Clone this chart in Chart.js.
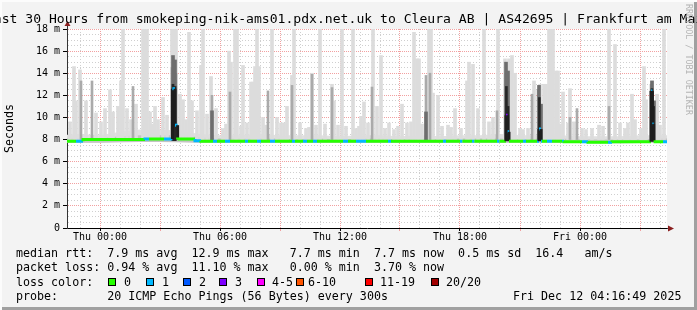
<!DOCTYPE html>
<html>
<head>
<meta charset="utf-8">
<script src="https://cdn.jsdelivr.net/npm/chart.js@4.4.1/dist/chart.umd.min.js"></script>
<style>
    html, body { margin: 0; padding: 0; background: #f3f3f3; }
    #frame {
        position: relative; width: 697px; height: 310px; overflow: hidden;
        background: #f3f3f3; color: #000;
        box-shadow: inset 2px 2px 0 #fcfcfc, inset -3px -3px 0 #a0a0a0;
        font-family: 'DejaVu Sans Mono', monospace;
    }
    #chart { position: absolute; left: 0; top: 0; }
    #title {
        position: absolute; left: 0; top: 10.5px; width: 697px;
        display: flex; justify-content: center;
        white-space: pre; font-size: 13.1px; line-height: 16px;
    }
    #credit {
        position: absolute; left: 684px; top: 4px; writing-mode: vertical-rl;
        font-size: 8.4px; color: #b4b4b4; white-space: pre;
    }
    .line { position: absolute; left: 16px; font-size: 11.66px; line-height: 14.4px; white-space: pre; }
    .txt { position: absolute; font-size: 11.66px; line-height: 14.4px; white-space: pre; }
    .sw { position: absolute; top: 278px; width: 6px; height: 6px; border: 1px solid #000; }
</style>
</head>
<body>
<div id="frame">
    <canvas id="chart" width="697" height="310"></canvas>
    <div id="title">Last 30 Hours from smokeping-nik-ams01.pdx.net.uk to Cleura AB | AS42695 | Frankfurt am Main</div>
    <div id="credit">RRDTOOL / TOBI OETIKER</div>
    <div class="line" style="top:246px">median rtt:  7.9 ms avg  12.9 ms max   7.7 ms min  7.7 ms now  0.5 ms sd  16.4   am/s</div>
    <div class="line" style="top:260.4px">packet loss: 0.94 % avg  11.10 % max   0.00 % min  3.70 % now</div>
    <div class="line" style="top:274.8px">loss color:</div>
    <div class="line" style="top:289.2px">probe:       20 ICMP Echo Pings (56 Bytes) every 300s</div>
    <div class="txt" style="top:289.2px; left:513px">Fri Dec 12 04:16:49 2025</div>
    <div id="losslegend"></div>
</div>
<script>
// hours relative to Thu 00:00, values in ms
const lightHours = [-1.50, -1.30, -1.20, -1.00, -0.70, -0.20, 0.25, 0.50, 0.65, 0.90,
    1.05, 1.15, 1.35, 1.80, 2.15, 2.25, 2.35, 2.50, 2.75, 2.90,
    3.15, 3.35, 3.60, 3.70, 3.80, 4.00, 4.15, 4.45, 4.60, 4.85,
    5.05, 5.15, 5.35, 5.55, 5.80, 6.15, 6.45, 6.55, 6.75, 6.85,
    7.15, 7.35, 7.55, 7.65, 7.75, 7.85, 7.95, 8.15, 8.60, 8.85,
    9.05, 9.35, 9.60, 9.70, 10.00, 10.30, 10.60, 10.80, 11.00, 11.60,
    11.70, 12.10, 12.30, 12.65, 12.80, 13.20, 13.40, 13.65, 13.85, 14.05,
    14.25, 14.45, 14.70, 15.10, 15.35, 15.70, 15.85, 15.95, 16.45, 16.55,
    16.65, 16.90, 17.40, 17.75, 18.05, 18.35, 18.45, 18.65, 18.90, 19.20,
    19.65, 19.90, 20.25, 20.45, 20.60, 20.75, 21.00, 21.15, 21.70, 22.00,
    22.20, 22.30, 22.45, 22.55, 22.65, 22.80, 22.90, 23.15, 23.40, 23.50,
    24.10, 24.60, 24.95, 25.45, 25.75, 26.00, 26.60, 26.75, 27.20, 27.30,
    27.60, 27.85, 28.20,
    0.05, 1.55, 2.62, 4.30, 6.30, 7.05, 8.30, 9.20, 10.45, 11.25,
    11.90, 12.95, 13.05, 14.90, 15.55, 16.10, 17.10, 17.55, 19.45, 21.40,
    23.00, 23.70, 24.30, 25.15, 26.25, 26.40, 27.05, 28.00];
const lightTops = [9.6, 14.6, 11.5, 14.3, 11.5, 10.4, 10.8, 12.5, 10.5, 11.0,
    13.3, 18, 10.8, 11.2, 18, 18, 18, 10.5, 11.0, 9.8,
    11.8, 10.2, 18, 18, 18, 12.1, 11.6, 17.7, 11.5, 10.6,
    14.7, 18, 10.3, 13.7, 10.8, 9.0, 16.0, 15.0, 18, 18,
    14.7, 9.5, 13.2, 13.2, 14.6, 18, 14.6, 10.0, 18, 10.0,
    9.5, 11.0, 13.8, 18, 9.5, 9.0, 14.0, 9.3, 18, 13.0,
    11.5, 18, 9.2, 18, 9.0, 11.4, 9.5, 18, 11.0, 15.6,
    9.0, 9.5, 8.9, 11.2, 9.5, 17.7, 15.3, 15.3, 18, 18,
    12.2, 12.0, 9.3, 10.8, 9.0, 13.3, 15.0, 14.8, 10.8, 18,
    10.0, 18, 15.3, 15.3, 15.6, 14.0, 9.0, 8.9, 13.3, 13.0,
    13.0, 13.0, 18, 18, 18, 14.2, 14.2, 12.3, 9.5, 12.6,
    9.0, 9.0, 9.3, 18, 16.6, 9.5, 12.1, 9.8, 14.6, 11.6,
    13.3, 12.1, 18,
    9.6, 9.8, 9.4, 9.8, 9.4, 9.2, 9.3, 9.5, 9.1, 9.4,
    9.3, 9.2, 10.1, 9.2, 9.6, 9.4, 9.2, 9.1, 9.6, 9.0,
    9.4, 9.6, 8.9, 9.2, 9.0, 9.5, 9.0, 9.3];
const midHours = [-0.95, -0.40, 1.65, 5.60, 6.50, 8.40, 9.60, 10.60, 11.60, 13.60,
    16.30, 16.50, 19.85, 21.60, 23.50, 23.85, 25.45, 3.60, 3.80, 20.30,
    21.90, 27.55];
const midTops = [13.3, 13.3, 12.8, 12.0, 12.3, 12.4, 12.9, 13.9, 12.7, 12.75,
    13.8, 14.0, 10.6, 12.1, 10.0, 10.8, 11.0, 14.5, 14.0, 14.0,
    12.5, 13.0];
const darkHours = [3.65, 3.75, 5.60, 16.30, 20.30, 20.40, 21.95, 22.05, 27.60, 27.70];
const darkTops = [15.6, 15.2, 10.6, 10.5, 15.0, 14.2, 12.9, 11.2, 13.3, 11.5];
const coreHours = [3.65, 3.75, 20.32, 20.40, 21.97, 27.60, 27.68];
const coreTops = [13.0, 12.8, 12.8, 11.0, 11.8, 12.6, 11.0];
const smokeBase = 8.0;
const coreBase = 7.9;

// smoke band around the median
const bandHours = [-2, -1, 0, 1, 2, 3, 4, 5, 6, 7, 8, 9, 10, 11, 12, 13,
    14, 15, 16, 17, 18, 19, 20, 21, 22, 23, 24, 25, 26, 27, 28, 29];
const bandLow = [7.72, 7.72, 7.72, 7.75, 7.78, 7.78, 7.75, 7.72, 7.72, 7.72, 7.72, 7.72, 7.70, 7.72, 7.70, 7.72,
    7.72, 7.70, 7.72, 7.70, 7.72, 7.72, 7.72, 7.70, 7.72, 7.72, 7.68, 7.66, 7.66, 7.68, 7.70, 7.70];
const bandMid = [8.1, 8.1, 8.1, 8.3, 8.4, 8.4, 8.4, 8.2, 8.1, 8.1, 8.1, 8.1, 8.0, 8.1, 8.0, 8.1,
    8.1, 8.0, 8.1, 8.0, 8.1, 8.1, 8.1, 8.0, 8.1, 8.1, 8.0, 8.0, 8.0, 8.0, 8.1, 8.1];
const bandHigh = [8.4, 8.5, 8.4, 8.7, 8.9, 8.9, 8.8, 8.5, 8.4, 8.4, 8.5, 8.4, 8.4, 8.4, 8.3, 8.4,
    8.4, 8.3, 8.4, 8.3, 8.4, 8.4, 8.5, 8.4, 8.4, 8.4, 8.3, 8.3, 8.3, 8.4, 8.4, 8.4];

// median rtt, each value holds until the next hour mark; loss is an index into lossColors
const medianHours = [-1.65, -1.20, -0.85, 1.10, 2.25, 2.45, 3.20, 3.62, 3.62, 3.75,
    3.75, 3.88, 3.88, 4.75, 5.05, 5.65, 5.85, 6.25, 6.50, 7.25,
    7.40, 7.85, 8.05, 8.50, 8.75, 9.60, 9.75, 10.15, 10.35, 10.65,
    10.85, 12.15, 12.40, 12.80, 13.30, 14.40, 14.55, 17.15, 17.30, 18.00,
    18.12, 18.60, 18.72, 19.85, 19.97, 20.30, 20.30, 20.38, 20.38, 20.45,
    20.45, 21.15, 21.30, 21.85, 21.95, 21.95, 22.05, 22.05, 22.10, 22.35,
    22.60, 23.10, 23.20, 24.10, 24.40, 25.40, 25.60, 27.55, 27.55, 27.62,
    27.62, 27.68, 27.68, 28.15, 28.35];
const medianValues = [7.85, 7.85, 7.85, 8.0, 8.0, 8.05, 8.05, 8.05, 12.6, 12.6,
    9.3, 9.3, 8.0, 8.05, 7.9, 7.85, 7.85, 7.85, 7.85, 7.85,
    7.85, 7.85, 7.85, 7.85, 7.85, 7.85, 7.85, 7.85, 7.85, 7.85,
    7.85, 7.85, 7.85, 7.85, 7.85, 7.85, 7.85, 7.85, 7.85, 7.85,
    7.85, 7.85, 7.85, 7.85, 7.85, 7.85, 10.2, 10.2, 8.7, 8.7,
    7.85, 7.85, 7.85, 7.85, 7.85, 8.95, 8.95, 7.85, 7.85, 7.85,
    7.85, 7.85, 7.85, 7.8, 7.8, 7.75, 7.75, 7.8, 12.4, 12.4,
    9.4, 9.4, 7.8, 7.8, 7.8];
const medianLoss = [0, 1, 0, 0, 1, 0, 1, 1, 1, 1,
    1, 1, 0, 1, 0, 1, 0, 1, 0, 1,
    0, 1, 0, 1, 0, 1, 0, 1, 0, 1,
    0, 1, 0, 1, 0, 1, 0, 1, 0, 1,
    0, 1, 0, 1, 0, 0, 3, 3, 1, 1,
    0, 1, 0, 1, 1, 1, 1, 1, 0, 1,
    0, 1, 0, 1, 0, 1, 0, 0, 1, 1,
    1, 1, 0, 1, 1];

const lossLabels = ['0', '1', '2', '3', '4-5', '6-10', '11-19', '20/20'];
const lossColors = ['#26ff00', '#00b8ff', '#0059ff', '#7e00ff', '#ff00ff', '#ff5500', '#ff0000', '#a10000'];

const xTickHours = [-1, 0, 1, 2, 3, 4, 5, 6, 7, 8, 9, 10, 11, 12, 13, 14,
    15, 16, 17, 18, 19, 20, 21, 22, 23, 24, 25, 26, 27, 28];
const xLabelHours = [0, 6, 12, 18, 24];
const xLabelTexts = ['Thu 00:00', 'Thu 06:00', 'Thu 12:00', 'Thu 18:00', 'Fri 00:00'];

const majorGrid = '#f2a0a0';
const minorGrid = '#cfcfcf';
const tickFont = { family: 'DejaVu Sans Mono', size: 10 };

// loss colour legend
const swatchLeft = [108, 146, 183, 219, 257, 296, 365, 431];
const labelLeft = [124, 162, 199, 235, 272, 308, 380, 446];
const legendBox = document.getElementById('losslegend');
lossLabels.forEach((label, i) => {
    const sw = document.createElement('div');
    sw.className = 'sw';
    sw.style.left = swatchLeft[i] + 'px';
    sw.style.background = lossColors[i];
    legendBox.appendChild(sw);
    const t = document.createElement('div');
    t.className = 'txt';
    t.style.top = '274.8px';
    t.style.left = labelLeft[i] + 'px';
    t.textContent = label;
    legendBox.appendChild(t);
});

function floating(hours, tops, base) {
    return hours.map((h, i) => ({ x: h, y: [base, tops[i]] }));
}

function points(hours, values) {
    return hours.map((h, i) => ({ x: h, y: values[i] }));
}

const plotDecor = {
    id: 'plotDecor',
    beforeDraw(chart) {
        const { ctx, chartArea: a } = chart;
        ctx.save();
        ctx.fillStyle = '#ffffff';
        ctx.fillRect(a.left, a.top, a.right - a.left, a.bottom - a.top);
        ctx.restore();
    },
    afterDraw(chart) {
        const { ctx, chartArea: a } = chart;
        ctx.save();
        ctx.strokeStyle = '#333333';
        ctx.lineWidth = 1;
        ctx.beginPath();
        ctx.moveTo(a.left + 0.5, a.top);
        ctx.lineTo(a.left + 0.5, a.top - 4);
        ctx.moveTo(a.right, a.bottom + 0.5);
        ctx.lineTo(a.right + 2, a.bottom + 0.5);
        ctx.stroke();
        ctx.fillStyle = '#8a1f1f';
        ctx.beginPath();
        ctx.moveTo(a.left + 0.5, a.top - 8);
        ctx.lineTo(a.left - 2.5, a.top - 3);
        ctx.lineTo(a.left + 3.5, a.top - 3);
        ctx.closePath();
        ctx.fill();
        ctx.beginPath();
        ctx.moveTo(a.right + 7, a.bottom + 0.5);
        ctx.lineTo(a.right + 1, a.bottom - 2.5);
        ctx.lineTo(a.right + 1, a.bottom + 3.5);
        ctx.closePath();
        ctx.fill();
        ctx.restore();
    }
};

const ctx = document.getElementById('chart').getContext('2d');
new Chart(ctx, {
    type: 'bar',
    data: {
        datasets: [
            {
                type: 'line',
                label: 'median rtt',
                data: points(medianHours, medianValues),
                stepped: 'after',
                borderWidth: 3,
                borderColor: lossColors[0],
                pointRadius: 0,
                fill: false,
                segment: {
                    borderColor: c => c.p0.parsed.x === c.p1.parsed.x
                        ? '#1e1e1e'
                        : lossColors[medianLoss[c.p0DataIndex]],
                },
                order: 0,
            },
            {
                label: 'core',
                data: floating(coreHours, coreTops, coreBase),
                backgroundColor: '#262626',
                barThickness: 2, grouped: false, clip: 0, order: 1,
            },
            {
                label: 'dark',
                data: floating(darkHours, darkTops, coreBase),
                backgroundColor: '#6e6e6e',
                barThickness: 3, grouped: false, clip: 0, order: 2,
            },
            {
                label: 'mid',
                data: floating(midHours, midTops, smokeBase),
                backgroundColor: '#aaaaaa',
                barThickness: 2, grouped: false, clip: 0, order: 3,
            },
            {
                label: 'light',
                data: floating(lightHours, lightTops, smokeBase),
                backgroundColor: '#dcdcdc',
                barThickness: 3, grouped: false, clip: 0, order: 4,
            },
            {
                type: 'line',
                label: 'band low',
                data: points(bandHours, bandLow),
                borderWidth: 1, borderColor: 'rgba(0,0,0,0)',
                pointRadius: 0, fill: false, order: 7,
            },
            {
                type: 'line',
                label: 'band high',
                data: points(bandHours, bandHigh),
                borderWidth: 1, borderColor: 'rgba(0,0,0,0)',
                backgroundColor: '#e0e0e0',
                pointRadius: 0, fill: 5, order: 6,
            },
            {
                type: 'line',
                label: 'band mid',
                data: points(bandHours, bandMid),
                borderWidth: 1, borderColor: 'rgba(0,0,0,0)',
                backgroundColor: '#c4c4c4',
                pointRadius: 0, fill: 5, order: 5,
            },
        ],
    },
    options: {
        responsive: false,
        animation: false,
        events: [],
        layout: { padding: { top: 29, right: 30, bottom: 0, left: 0 } },
        plugins: {
            legend: { display: false },
            tooltip: { enabled: false },
        },
        scales: {
            x: {
                type: 'linear',
                min: -1.65,
                max: 28.35,
                bounds: 'data',
                offset: false,
                afterBuildTicks: scale => {
                    scale.ticks = xTickHours.map(v => ({ value: v }));
                },
                afterFit: scale => { scale.height = 82; },
                ticks: {
                    autoSkip: false,
                    maxRotation: 0,
                    minRotation: 0,
                    padding: 0,
                    color: '#000',
                    font: tickFont,
                    callback: value => {
                        const i = xLabelHours.indexOf(value);
                        return i >= 0 ? xLabelTexts[i] : '';
                    },
                },
                grid: {
                    offset: false,
                    lineWidth: 1,
                    tickLength: 3,
                    color: c => c.tick.value % 3 === 0 ? majorGrid : minorGrid,
                    tickColor: c => xLabelHours.includes(c.tick.value)
                        ? '#000'
                        : (c.tick.value % 3 === 0 ? majorGrid : 'rgba(0,0,0,0)'),
                },
                border: {
                    color: '#000',
                    width: 1,
                    dash: c => (c.tick && c.tick.value % 3 === 0) ? [1, 1] : [1, 2],
                },
            },
            y: {
                type: 'linear',
                min: 0,
                max: 18,
                afterFit: scale => { scale.width = 67; },
                ticks: {
                    stepSize: 0.5,
                    autoSkip: false,
                    padding: 3,
                    color: '#000',
                    font: tickFont,
                    callback: value => {
                        if (value % 2 !== 0) return '';
                        return value === 0 ? '0' : value + ' m';
                    },
                },
                grid: {
                    lineWidth: 1,
                    tickLength: 4,
                    color: c => c.tick.value === 0
                        ? 'rgba(0,0,0,0)'
                        : (c.tick.value % 2 === 0 ? majorGrid : minorGrid),
                    tickColor: c => c.tick.value % 2 === 0 ? '#000' : 'rgba(0,0,0,0)',
                },
                border: {
                    color: '#333',
                    width: 1,
                    dash: c => (c.tick && c.tick.value % 2 === 0) ? [1, 1] : [1, 2],
                },
                title: {
                    display: true,
                    text: 'Seconds',
                    color: '#000',
                    font: { family: 'DejaVu Sans Mono', size: 11.66 },
                    padding: { top: 3, bottom: 0 },
                },
            },
        },
    },
    plugins: [plotDecor],
});
</script>
</body>
</html>
